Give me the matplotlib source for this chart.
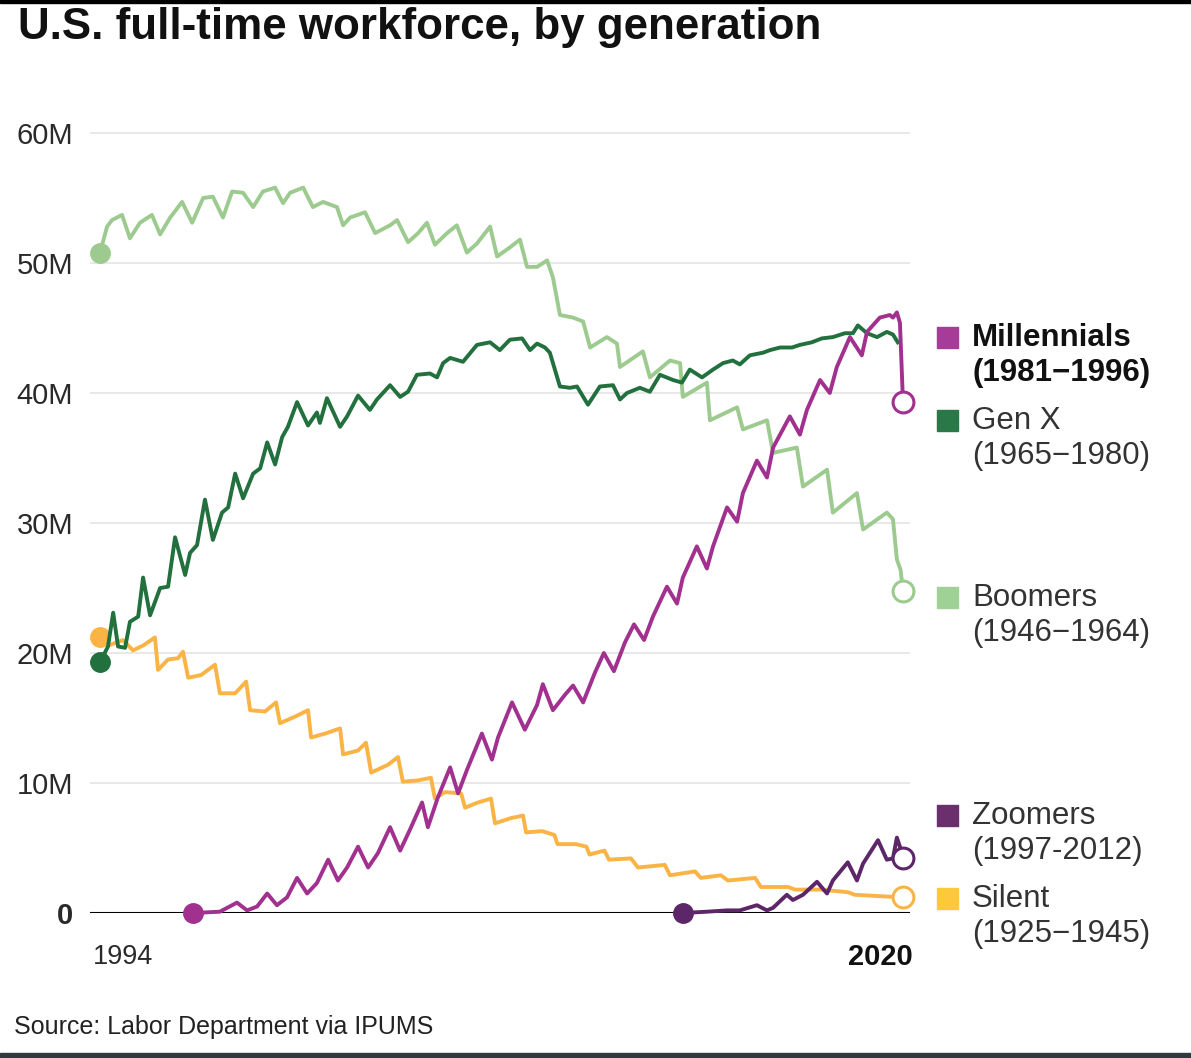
import matplotlib
matplotlib.use('Agg')
import matplotlib.pyplot as plt
from matplotlib.patches import Rectangle
from matplotlib.transforms import ScaledTranslation

# full-time workers by generation, millions
boomers_years = [1994.00, 1994.23, 1994.39, 1994.72, 1994.98, 1995.31, 1995.70, 1995.97, 1996.30, 1996.69,
                 1997.02, 1997.38, 1997.70, 1998.03, 1998.33, 1998.69, 1999.02, 1999.34, 1999.74, 2000.00,
                 2000.23, 2000.66, 2000.98, 2001.31, 2001.77, 2001.97, 2002.20, 2002.69, 2003.02, 2003.51,
                 2003.74, 2004.10, 2004.43, 2004.72, 2004.98, 2005.38, 2005.70, 2006.03, 2006.36, 2006.79,
                 2007.02, 2007.44, 2007.77, 2008.00, 2008.33, 2008.66, 2008.85, 2009.08, 2009.51, 2009.84,
                 2010.07, 2010.62, 2010.95, 2011.05, 2011.80, 2012.03, 2012.69, 2013.02, 2013.11, 2013.90,
                 2014.00, 2014.89, 2015.08, 2015.87, 2016.07, 2016.85, 2017.05, 2017.84, 2018.03, 2018.82,
                 2019.02, 2019.80, 2020.00, 2020.13, 2020.25, 2020.33]
boomers_vals = [50.8, 52.8, 53.3, 53.7, 51.9, 53.1, 53.7, 52.2, 53.5, 54.7,
                53.1, 55.0, 55.1, 53.5, 55.5, 55.4, 54.3, 55.5, 55.8, 54.6,
                55.4, 55.8, 54.3, 54.7, 54.3, 52.9, 53.5, 53.9, 52.3, 52.9,
                53.3, 51.6, 52.3, 53.1, 51.4, 52.3, 52.9, 50.8, 51.5, 52.8,
                50.5, 51.2, 51.8, 49.7, 49.7, 50.2, 48.9, 46.0, 45.8, 45.5,
                43.5, 44.3, 43.8, 42.0, 43.2, 41.2, 42.5, 42.3, 39.7, 40.8,
                37.9, 38.9, 37.2, 37.9, 35.4, 35.8, 32.8, 34.1, 30.8, 32.3,
                29.5, 30.8, 30.3, 27.2, 26.4, 24.8]

genx_years = [1994.00, 1994.26, 1994.43, 1994.59, 1994.82, 1994.98, 1995.25, 1995.41, 1995.64, 1995.97,
              1996.23, 1996.46, 1996.79, 1996.95, 1997.18, 1997.44, 1997.70, 1998.00, 1998.20, 1998.43,
              1998.69, 1999.02, 1999.25, 1999.48, 1999.74, 1999.97, 2000.16, 2000.46, 2000.82, 2001.11,
              2001.21, 2001.44, 2001.87, 2002.10, 2002.46, 2002.85, 2003.08, 2003.51, 2003.84, 2004.10,
              2004.39, 2004.82, 2005.05, 2005.25, 2005.48, 2005.90, 2006.36, 2006.79, 2007.11, 2007.44,
              2007.84, 2008.10, 2008.33, 2008.59, 2008.75, 2009.08, 2009.41, 2009.64, 2010.00, 2010.39,
              2010.82, 2011.05, 2011.28, 2011.70, 2012.03, 2012.36, 2012.79, 2013.08, 2013.34, 2013.74,
              2014.10, 2014.43, 2014.75, 2014.98, 2015.31, 2015.74, 2015.97, 2016.30, 2016.69, 2016.95,
              2017.34, 2017.67, 2018.03, 2018.43, 2018.69, 2018.85, 2019.15, 2019.48, 2019.80, 2020.00,
              2020.16]
genx_vals = [19.3, 20.5, 23.1, 20.5, 20.4, 22.4, 22.8, 25.8, 22.9, 25.0,
             25.1, 28.9, 26.0, 27.7, 28.3, 31.8, 28.7, 30.8, 31.2, 33.8,
             31.9, 33.8, 34.2, 36.2, 34.5, 36.6, 37.4, 39.3, 37.5, 38.5,
             37.7, 39.6, 37.4, 38.2, 39.8, 38.7, 39.5, 40.6, 39.7, 40.1,
             41.4, 41.5, 41.2, 42.3, 42.7, 42.4, 43.7, 43.9, 43.3, 44.1,
             44.2, 43.3, 43.8, 43.5, 43.1, 40.5, 40.4, 40.5, 39.1, 40.5,
             40.6, 39.5, 40.0, 40.4, 40.1, 41.4, 41.0, 40.8, 41.8, 41.2,
             41.8, 42.3, 42.5, 42.2, 42.9, 43.1, 43.3, 43.5, 43.5, 43.7,
             43.9, 44.2, 44.3, 44.6, 44.6, 45.2, 44.6, 44.3, 44.7, 44.5,
             43.9]

millennial_years = [1997.05, 1997.93, 1998.49, 1998.82, 1999.15, 1999.48, 1999.80, 2000.13, 2000.46, 2000.79,
                    2001.11, 2001.48, 2001.80, 2002.10, 2002.46, 2002.79, 2003.11, 2003.51, 2003.84, 2004.16,
                    2004.56, 2004.75, 2005.08, 2005.48, 2005.74, 2006.03, 2006.52, 2006.85, 2007.05, 2007.51,
                    2007.93, 2008.33, 2008.52, 2008.85, 2009.25, 2009.51, 2009.84, 2010.23, 2010.52, 2010.85,
                    2011.21, 2011.51, 2011.84, 2012.13, 2012.59, 2012.92, 2013.11, 2013.57, 2013.90, 2014.10,
                    2014.56, 2014.89, 2015.08, 2015.54, 2015.87, 2016.07, 2016.62, 2016.95, 2017.18, 2017.61,
                    2017.93, 2018.16, 2018.59, 2018.98, 2019.15, 2019.57, 2019.90, 2020.00, 2020.13, 2020.23,
                    2020.33]
millennial_vals = [0.0, 0.1, 0.8, 0.2, 0.5, 1.5, 0.6, 1.2, 2.7, 1.5,
                   2.3, 4.1, 2.5, 3.5, 5.1, 3.5, 4.6, 6.6, 4.8, 6.4,
                   8.5, 6.6, 8.9, 11.2, 9.2, 11.0, 13.8, 11.8, 13.5, 16.2,
                   14.1, 16.0, 17.6, 15.6, 16.8, 17.5, 16.2, 18.5, 20.0, 18.6,
                   20.8, 22.2, 21.0, 22.8, 25.1, 23.8, 25.8, 28.2, 26.5, 28.2,
                   31.2, 30.1, 32.3, 34.8, 33.5, 35.8, 38.2, 36.8, 38.7, 41.0,
                   40.0, 42.0, 44.3, 42.9, 44.7, 45.8, 46.0, 45.8, 46.2, 45.4,
                   39.3]

zoomer_years = [2013.11, 2013.90, 2014.56, 2014.98, 2015.54, 2015.87, 2016.07, 2016.52, 2016.72, 2017.05,
                2017.51, 2017.84, 2018.03, 2018.52, 2018.82, 2019.02, 2019.51, 2019.80, 2020.00, 2020.13,
                2020.23, 2020.33]
zoomer_vals = [0.0, 0.1, 0.2, 0.2, 0.6, 0.2, 0.4, 1.4, 1.0, 1.4,
               2.4, 1.5, 2.5, 3.9, 2.5, 3.8, 5.6, 4.1, 4.2, 5.8,
               5.1, 4.2]

silent_years = [1994.00, 1994.30, 1994.75, 1995.08, 1995.43, 1995.80, 1995.90, 1996.23, 1996.56, 1996.72,
                1996.89, 1997.31, 1997.77, 1997.93, 1998.43, 1998.79, 1998.92, 1999.41, 1999.77, 1999.90,
                2000.39, 2000.82, 2000.92, 2001.38, 2001.87, 2001.97, 2002.46, 2002.72, 2002.89, 2003.44,
                2003.77, 2003.93, 2004.43, 2004.85, 2004.98, 2005.31, 2005.84, 2005.97, 2006.39, 2006.82,
                2006.95, 2007.48, 2007.87, 2007.97, 2008.50, 2008.90, 2009.00, 2009.60, 2009.95, 2010.05,
                2010.54, 2010.69, 2011.41, 2011.64, 2012.52, 2012.69, 2013.51, 2013.70, 2014.36, 2014.59,
                2015.48, 2015.67, 2016.56, 2016.79, 2017.64, 2018.52, 2018.75, 2020.33]
silent_vals = [21.2, 20.6, 21.0, 20.2, 20.6, 21.2, 18.7, 19.5, 19.6, 20.1,
               18.1, 18.3, 19.1, 16.9, 16.9, 17.8, 15.6, 15.5, 16.2, 14.6,
               15.1, 15.6, 13.5, 13.8, 14.2, 12.2, 12.5, 13.1, 10.8, 11.4,
               12.0, 10.1, 10.2, 10.4, 8.8, 9.3, 9.2, 8.1, 8.5, 8.8,
               6.9, 7.3, 7.5, 6.2, 6.3, 6.0, 5.3, 5.3, 5.1, 4.5,
               4.8, 4.1, 4.2, 3.5, 3.7, 2.9, 3.2, 2.7, 2.9, 2.5,
               2.7, 2.0, 2.0, 1.8, 1.8, 1.6, 1.4, 1.2]

yticks = [0, 10, 20, 30, 40, 50, 60]
ytick_labels = ['0', '10M', '20M', '30M', '40M', '50M', '60M']

legend_names = ['Millennials', 'Gen X', 'Boomers', 'Zoomers', 'Silent']
legend_spans = ['(1981\u22121996)', '(1965\u22121980)', '(1946\u22121964)', '(1997-2012)', '(1925\u22121945)']

FONT = ['Liberation Sans', 'DejaVu Sans']

c_boom = '#9dcb8f'
c_genx = '#23703f'
c_mill = '#a1308f'
c_zoom = '#5d2668'
c_silent = '#fab446'

W, H = 1191, 1058
fig = plt.figure(figsize=(W / 100, H / 100), dpi=100)
ax = fig.add_axes([90 / W, 1 - 913 / H, 820 / W, (913 - 107) / H])
ax.set_xlim(1993.67, 2020.56)
ax.set_ylim(0, 62)

for s in ax.spines.values():
    s.set_visible(False)
ax.set_xticks([])
ax.set_yticks(yticks)
ax.set_yticklabels(ytick_labels, family=FONT, fontsize=21, color='#2a2a2a')
ax.get_yticklabels()[0].set_fontweight('bold')
shift = ScaledTranslation(0, -4 / 100, fig.dpi_scale_trans)
for lab in ax.get_yticklabels():
    lab.set_transform(lab.get_transform() + shift)
ax.tick_params(axis='y', length=0, pad=12)
ax.yaxis.grid(True, color='#e6e6e6', lw=1.3)
ax.set_axisbelow(True)
ax.axhline(0, color='black', lw=1.5, zorder=2)

series = [
    (boomers_years, boomers_vals, c_boom, 3, True),
    (silent_years, silent_vals, c_silent, 4, True),
    (genx_years, genx_vals, c_genx, 5, False),
    (zoomer_years, zoomer_vals, c_zoom, 6, True),
    (millennial_years, millennial_vals, c_mill, 7, True),
]
for xs, ys, col, z, end_mark in series:
    ax.plot(xs, ys, color=col, lw=2.8, zorder=z, solid_joinstyle='round', clip_on=False)
    ax.plot(xs[0], ys[0], 'o', ms=14, color=col, mec=col, zorder=z + 0.5, clip_on=False)
    if end_mark:
        ax.plot(xs[-1], ys[-1], 'o', ms=15, mfc='white', mec=col, mew=2.2, zorder=z + 0.5, clip_on=False)

ax.text(1993.78, -3.4, '1994', ha='left', va='center', fontsize=19.5, family=FONT, color='#2a2a2a')
ax.text(2020.66, -3.4, '2020', ha='right', va='center', fontsize=21, family=FONT,
        fontweight='bold', color='#111111', clip_on=False)

# legend on the right
swatches = ['#a63c98', '#2a7848', '#9fd197', '#6b2f6e', '#fdc93a']
legend_py = [338, 421, 598, 816, 899]
for name, span, col, py in zip(legend_names, legend_spans, swatches, legend_py):
    fig.patches.append(Rectangle((937 / W, 1 - (py + 10) / H), 21 / W, 21 / H,
                                 transform=fig.transFigure, color=col))
    bold = 'bold' if name == 'Millennials' else 'normal'
    tc = '#111111' if name == 'Millennials' else '#333333'
    fig.text(972 / W, 1 - py / H, name, ha='left', va='center', fontsize=22.5,
             family=FONT, fontweight=bold, color=tc)
    fig.text(972 / W, 1 - (py + 35) / H, span, ha='left', va='center', fontsize=22.5,
             family=FONT, fontweight=bold, color=tc)

fig.text(18 / W, 1 - 27 / H, 'U.S. full-time workforce, by generation', ha='left', va='center',
         fontsize=31.6, family=FONT, fontweight='bold', color='#111111')
fig.text(14 / W, 1 - 1027 / H, 'Source: Labor Department via IPUMS', ha='left', va='center',
         fontsize=18, family=FONT, color='#222222')

# thin bars at top and bottom edges
fig.patches.append(Rectangle((0, 1 - 3 / H), 1, 3 / H, transform=fig.transFigure, color='black'))
fig.patches.append(Rectangle((0, 0), 1, 5 / H, transform=fig.transFigure, color='#2d3a40'))

fig.savefig('out.png', dpi=100)
